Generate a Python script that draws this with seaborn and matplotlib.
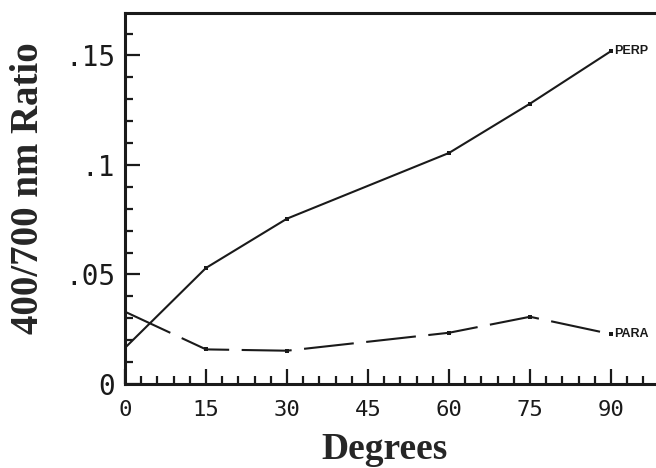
import matplotlib
matplotlib.use("Agg")
import matplotlib.pyplot as plt
from matplotlib.ticker import MultipleLocator, FixedLocator
import seaborn as sns
import pandas as pd

degrees = [0, 15, 30, 60, 75, 90]
perp = [0.0165, 0.053, 0.0755, 0.1055, 0.128, 0.152]
para = [0.033, 0.0158, 0.0152, 0.0234, 0.0307, 0.0228]
series_labels = ["PERP", "PARA"]
x_ticks = [0, 15, 30, 45, 60, 75, 90]
y_ticks = [0, 0.05, 0.1, 0.15]
y_tick_labels = ["0", ".05", ".1", ".15"]

sns.set_style("white")

fig = plt.figure(figsize=(6.56, 4.68), dpi=100)
ax = fig.add_axes([125 / 656, 84 / 468, 540 / 656, 371 / 468])

df_perp = pd.DataFrame({"deg": degrees, "ratio": perp})
df_para = pd.DataFrame({"deg": degrees, "ratio": para})

sns.lineplot(data=df_perp, x="deg", y="ratio", ax=ax, color="#1a1a1a",
             linewidth=1.5, marker="s", markersize=3.2, markeredgewidth=0)
sns.lineplot(data=df_para, x="deg", y="ratio", ax=ax, color="#1a1a1a",
             linewidth=1.5, marker="s", markersize=3.2, markeredgewidth=0)
ax.lines[-1].set_dashes([24, 6])

ax.set_xlim(0, 100)
ax.set_ylim(0, 0.1694)

ax.xaxis.set_major_locator(FixedLocator(x_ticks))
ax.xaxis.set_minor_locator(MultipleLocator(3))
ax.yaxis.set_major_locator(FixedLocator(y_ticks))
ax.yaxis.set_minor_locator(MultipleLocator(0.01))
ax.set_yticklabels(y_tick_labels)
ax.set_xticklabels([str(v) for v in x_ticks])

for side in ["left", "bottom", "top"]:
    ax.spines[side].set_linewidth(2.2)
    ax.spines[side].set_color("#1a1a1a")
ax.spines["right"].set_visible(False)

ax.tick_params(axis="both", which="major", direction="in", length=11,
               width=1.6, color="#1a1a1a", labelcolor="#1a1a1a")
ax.tick_params(axis="both", which="minor", direction="in", length=5.5,
               width=1.6, color="#1a1a1a")
ax.tick_params(axis="x", which="major", pad=11.5, labelsize=16)
ax.tick_params(axis="y", which="major", pad=7, labelsize=20)
ax.tick_params(axis="y", which="both", left=True, right=False)
ax.tick_params(axis="x", which="both", bottom=True, top=False)
for lab in ax.get_xticklabels() + ax.get_yticklabels():
    lab.set_family("DejaVu Sans Mono")

ax.set_xlabel("Degrees", fontsize=27, fontweight="bold",
              family="Liberation Serif")
ax.set_ylabel("400/700 nm Ratio", fontsize=28, fontweight="bold",
              family="Liberation Serif")
ax.xaxis.set_label_coords(0.481, -0.13)
ax.yaxis.set_label_coords(-0.145, 0.528)

ax.annotate(series_labels[0], (degrees[-1], perp[-1]), xytext=(2, 0),
            textcoords="offset points", va="center", ha="left",
            fontsize=9, fontweight="bold", family="Liberation Sans",
            color="#1a1a1a")
ax.annotate(series_labels[1], (degrees[-1], para[-1]), xytext=(2, 0),
            textcoords="offset points", va="center", ha="left",
            fontsize=9, fontweight="bold", family="Liberation Sans",
            color="#1a1a1a")

fig.savefig("out.png", dpi=100)
